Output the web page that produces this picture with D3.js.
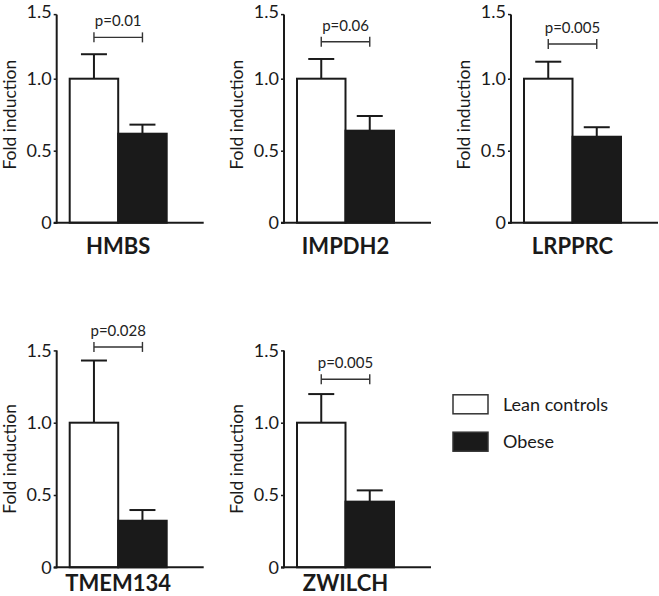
<!DOCTYPE html>
<html><head><meta charset="utf-8">
<script src="https://cdn.jsdelivr.net/npm/d3@7"></script>
<style>
html,body{margin:0;padding:0;background:#fff;}
svg{display:block;font-family:Lato,"Open Sans",sans-serif;}
</style></head>
<body>
<svg id="chart" width="659" height="596"></svg>
<script>
// ---- data ----
const genes = ["HMBS", "IMPDH2", "LRPPRC", "TMEM134", "ZWILCH"];
const groups = ["Lean controls", "Obese"];
const leanMeans = [1.0, 1.0, 1.0, 1.0, 1.0];
const leanErr = [0.17, 0.137, 0.118, 0.43, 0.198];
const obeseMeans = [0.618, 0.639, 0.597, 0.322, 0.454];
const obeseErr = [0.063, 0.102, 0.066, 0.074, 0.078];
const pLabels = ["p=0.01", "p=0.06", "p=0.005", "p=0.028", "p=0.005"];
const bracketLevels = [1.287, 1.257, 1.241, 1.524, 1.30];
const yTicks = [0, 0.5, 1.0, 1.5];
const yTickLabels = ["0", "0.5", "1.0", "1.5"];
const yLabel = "Fold induction";

// ---- layout ----
const colAxisX = [56.7, 284, 511];
const rowBase = [222.7, 567.3];
const rowUnit = [144, 144.6];
const rowAxisTop = [1.445, 1.5];
const rowGeneOffset = [24, 16];
const panelPos = [[0,0],[1,0],[2,0],[0,1],[1,1]];
const ink = "#1a1a1a";
const font = "Lato,'Open Sans',sans-serif";

const svg = d3.select("#chart");

genes.forEach((gene, i) => {
  const [c, r] = panelPos[i];
  const ax = colAxisX[c];
  const base = rowBase[r];
  const y = d3.scaleLinear().domain([0, 1.5]).range([base, base - 1.5 * rowUnit[r]]);
  const x = d3.scaleBand().domain(groups).range([ax + 13, ax + 110]).padding(0);
  const g = svg.append("g");

  const means = [leanMeans[i], obeseMeans[i]];
  const errs = [leanErr[i], obeseErr[i]];
  const data = groups.map((k, j) => ({k, m: means[j], e: errs[j]}));

  // error bars (above)
  const cap = 26;
  data.forEach(d => {
    const cx = x(d.k) + x.bandwidth() / 2;
    g.append("line").attr("x1", cx).attr("x2", cx)
      .attr("y1", y(d.m)).attr("y2", y(d.m + d.e))
      .attr("stroke", ink).attr("stroke-width", 2);
    g.append("line").attr("x1", cx - cap / 2).attr("x2", cx + cap / 2)
      .attr("y1", y(d.m + d.e)).attr("y2", y(d.m + d.e))
      .attr("stroke", ink).attr("stroke-width", 2);
  });

  // bars
  g.selectAll("rect.bar").data(data).join("rect")
    .attr("class", "bar")
    .attr("x", d => x(d.k))
    .attr("width", x.bandwidth())
    .attr("y", d => y(d.m))
    .attr("height", d => y(0) - y(d.m))
    .attr("fill", (d, j) => j === 0 ? "#fff" : ink)
    .attr("stroke", ink).attr("stroke-width", 2);

  // axis
  const axis = d3.axisLeft(y).tickValues(yTicks)
    .tickFormat((v, j) => yTickLabels[j]).tickSize(3).tickPadding(2).tickSizeOuter(0);
  const ag = g.append("g").attr("transform", `translate(${ax},0)`).call(axis);
  ag.select(".domain").remove();
  ag.selectAll(".tick line").attr("stroke", ink).attr("stroke-width", 1.5);
  ag.selectAll(".tick text").attr("fill", ink).attr("font-size", 18)
    .attr("font-family", font);
  if (r === 0) {
    const t15 = ag.selectAll(".tick").filter(v => v === 1.5);
    t15.select("line").remove();
    t15.select("text").attr("y", 5.5);
  }
  g.append("line").attr("x1", ax).attr("x2", ax)
    .attr("y1", y(rowAxisTop[r])).attr("y2", y(0) + 1)
    .attr("stroke", ink).attr("stroke-width", 2);
  if (r === 0) {
    g.append("line").attr("x1", ax - 3).attr("x2", ax)
      .attr("y1", y(rowAxisTop[r])).attr("y2", y(rowAxisTop[r]))
      .attr("stroke", ink).attr("stroke-width", 1.5);
  }
  // baseline
  g.append("line").attr("x1", ax - 3).attr("x2", ax + 147)
    .attr("y1", y(0)).attr("y2", y(0))
    .attr("stroke", ink).attr("stroke-width", 2);

  // y label
  g.append("text")
    .attr("transform", `translate(${ax - 41},${y(0.75)}) rotate(-90)`)
    .attr("text-anchor", "middle").attr("font-size", 17.5).attr("fill", ink)
    .text(yLabel);

  // significance bracket
  const x1 = x(groups[0]) + x.bandwidth() / 2;
  const x2 = x(groups[1]) + x.bandwidth() / 2;
  const by = y(bracketLevels[i]);
  const bs = "#333";
  g.append("line").attr("x1", x1).attr("x2", x2).attr("y1", by).attr("y2", by)
    .attr("stroke", bs).attr("stroke-width", 1.4);
  [x1, x2].forEach(xx => g.append("line").attr("x1", xx).attr("x2", xx)
    .attr("y1", by - 5).attr("y2", by + 5).attr("stroke", bs).attr("stroke-width", 1.4));
  g.append("text").attr("x", (x1 + x2) / 2).attr("y", by - 11)
    .attr("text-anchor", "middle").attr("font-size", 15).attr("fill", "#222")
    .text(pLabels[i]);

  // gene label
  g.append("text").attr("x", (x(groups[0]) + x(groups[1]) + x.bandwidth()) / 2)
    .attr("y", base + rowGeneOffset[r]).attr("dy", "0.35em")
    .attr("text-anchor", "middle").attr("font-size", 22).attr("font-weight", "bold")
    .attr("fill", ink).text(gene);
});

// legend
const legY = [404.3, 441.7];
const lg = svg.append("g");
groups.forEach((k, j) => {
  lg.append("rect").attr("x", 453).attr("y", legY[j] - 9.5).attr("width", 35).attr("height", 19)
    .attr("fill", j === 0 ? "#fff" : ink).attr("stroke", "#333").attr("stroke-width", 1.5);
  lg.append("text").attr("x", 503).attr("y", legY[j]).attr("dy", "0.35em")
    .attr("font-size", 18).attr("fill", ink).text(k);
});
</script>
</body></html>
